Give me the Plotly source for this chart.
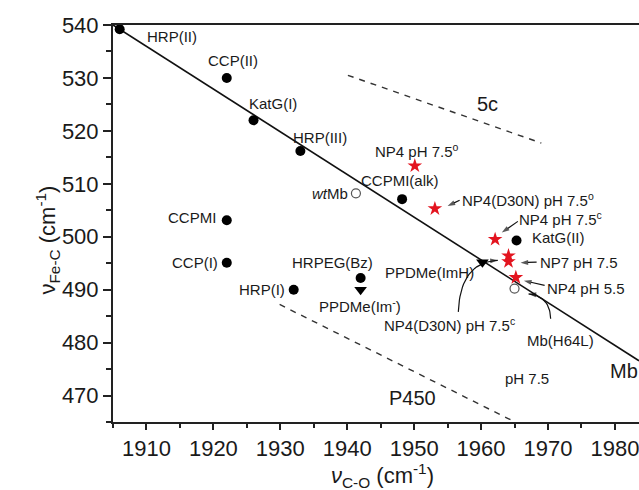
import plotly.graph_objects as go

# ---- data ----
fill_names = ["HRP(II)", "CCP(II)", "KatG(I)", "HRP(III)", "CCPMI", "CCP(I)", "HRP(I)",
              "HRPEG(Bz)", "CCPMI(alk)", "KatG(II)"]
fill_x = [1906, 1922, 1926, 1933, 1922, 1922, 1932, 1942, 1948.2, 1965.3]
fill_y = [539.2, 530, 522, 516.2, 503.1, 495.1, 490, 492.2, 507.1, 499.3]

open_names = ["wtMb", "Mb(H64L)"]
open_x = [1941.3, 1965]
open_y = [508.2, 490.2]

tri_names = ["PPDMe(Im-)", "PPDMe(ImH)"]
tri_x = [1942, 1960.2]
tri_y = [490, 495.2]

star_names = ["NP4 pH 7.5o", "NP4(D30N) pH 7.5o", "NP4 pH 7.5c", "NP7 pH 7.5",
              "NP4(D30N) pH 7.5c", "NP4 pH 5.5"]
star_x = [1950.1, 1953.1, 1962.1, 1964.1, 1964.1, 1965.2]
star_y = [513.4, 505.3, 499.5, 496.4, 495.3, 492.3]

# linear correlation line (Mb) and reference dashed lines
fit_slope = -0.807
fit_x0, fit_y0 = 1906, 539.2
fit_xs = [1905, 1983.6]
dash5c_x = [1940.1, 1969.0]
dash5c_y = [530.5, 517.7]
dashP450_x = [1929.9, 1964.6]
dashP450_y = [487.2, 465.3]

x_range = [1905, 1983.6]
y_range = [465, 540]
x_ticks = [1910, 1920, 1930, 1940, 1950, 1960, 1970, 1980]
y_ticks = [470, 480, 490, 500, 510, 520, 530, 540]

FONT = "Liberation Sans, Arial, sans-serif"
TXT = "#1a1a1a"

fig = go.Figure()

fit_ys = [fit_y0 + fit_slope * (x - fit_x0) for x in fit_xs]
fig.add_trace(go.Scatter(x=fit_xs, y=fit_ys, mode="lines",
                         line=dict(color="#111", width=1.6), hoverinfo="skip"))
fig.add_trace(go.Scatter(x=dash5c_x, y=dash5c_y, mode="lines",
                         line=dict(color="#333", width=1.4, dash="6px,6px"), hoverinfo="skip"))
fig.add_trace(go.Scatter(x=dashP450_x, y=dashP450_y, mode="lines",
                         line=dict(color="#333", width=1.4, dash="6px,6px"), hoverinfo="skip"))

# ---- arrows (drawn as lines with an oriented arrow marker at the tip) ----
# straight arrows: (tail, tip) in data coords
arrows = [
    ((1956.8, 506.9), (1955.0, 505.8)),
    ((1965.5, 502.9), (1963.1, 500.8)),
    ((1968.3, 495.2), (1965.9, 495.1)),
    ((1969.5, 490.8), (1966.4, 491.7)),
]
# curved arrows: quadratic bezier (start, control, end)
curves = [
    ((1956.6, 485.8), (1956.9, 495.2), (1962.5, 495.55)),
    ((1970.4, 484.5), (1970.3, 488.8), (1967.1, 489.2)),
]


def bezier(s, c, e, n=24):
    xs, ys = [], []
    for i in range(n + 1):
        t = i / n
        xs.append((1 - t) ** 2 * s[0] + 2 * (1 - t) * t * c[0] + t ** 2 * e[0])
        ys.append((1 - t) ** 2 * s[1] + 2 * (1 - t) * t * c[1] + t ** 2 * e[1])
    return xs, ys


arrow_paths = [([a[0], b[0]], [a[1], b[1]]) for a, b in arrows]
arrow_paths += [bezier(*cv) for cv in curves]
for xs, ys in arrow_paths:
    n = len(xs)
    fig.add_trace(go.Scatter(
        x=xs, y=ys, mode="lines+markers", hoverinfo="skip",
        line=dict(color="#111", width=1.2),
        marker=dict(symbol=["circle"] * (n - 1) + ["arrow"],
                    size=[0] * (n - 1) + [8], color="#111",
                    angleref="previous", line=dict(width=0))))

fig.add_trace(go.Scatter(x=fill_x, y=fill_y, mode="markers", text=fill_names,
                         marker=dict(symbol="circle", size=10, color="#000")))
fig.add_trace(go.Scatter(x=open_x, y=open_y, mode="markers", text=open_names,
                         marker=dict(symbol="circle", size=9, color="white",
                                     line=dict(color="#555", width=1.2))))
fig.add_trace(go.Scatter(x=tri_x, y=tri_y, mode="markers", text=tri_names,
                         marker=dict(symbol="triangle-down", size=11, color="#000")))
fig.add_trace(go.Scatter(x=star_x, y=star_y, mode="markers", text=star_names,
                         marker=dict(symbol="star", size=11, color="#e3141f",
                                     line=dict(width=0))))

# ---- text labels ----
labels = [
    ("HRP(II)", 1913.8, 537.9, "center", 15),
    ("CCP(II)", 1922.9, 533.2, "center", 15),
    ("KatG(I)", 1928.9, 525.2, "center", 15),
    ("HRP(III)", 1935.9, 518.8, "center", 15),
    ("CCPMI", 1920.7, 503.7, "right", 15),
    ("CCP(I)", 1921.0, 495.2, "right", 15),
    ("HRP(I)", 1931.0, 490.1, "right", 15),
    ("HRPEG(Bz)", 1937.8, 495.2, "center", 15),
    ("PPDMe(Im<sup>-</sup>)", 1941.9, 487.0, "center", 15),
    ("<i>wt</i>Mb", 1940.4, 508.2, "right", 15),
    ("CCPMI(alk)", 1947.9, 510.7, "center", 15),
    ("NP4 pH 7.5<sup>o</sup>", 1950.5, 516.2, "center", 15),
    ("5c", 1961.0, 525.1, "center", 20),
    ("NP4(D30N) pH 7.5<sup>o</sup>", 1956.9, 507.0, "left", 15),
    ("NP4 pH 7.5<sup>c</sup>", 1965.4, 503.4, "left", 15),
    ("KatG(II)", 1967.3, 499.9, "left", 15),
    ("NP7 pH 7.5", 1968.5, 495.2, "left", 15),
    ("NP4 pH 5.5", 1969.5, 490.2, "left", 15),
    ("PPDMe(ImH)", 1952.3, 493.3, "center", 15),
    ("NP4(D30N) pH 7.5<sup>c</sup>", 1955.3, 483.4, "center", 15),
    ("Mb(H64L)", 1971.9, 480.4, "center", 15),
    ("Mb", 1979.0, 474.7, "left", 20),
    ("pH 7.5", 1966.8, 473.2, "center", 15),
    ("P450", 1949.8, 469.6, "center", 20),
]
for txt, lx, ly, anc, fs in labels:
    fig.add_annotation(x=lx, y=ly, text=txt, showarrow=False, xanchor=anc,
                       yanchor="middle", font=dict(family=FONT, size=fs, color=TXT))

# axis titles
fig.add_annotation(xref="paper", yref="paper", x=-0.158, y=0.458, textangle=-90,
                   text="ν<sub>Fe-C</sub> (cm<sup>-1</sup>)", showarrow=False,
                   font=dict(family=FONT, size=22, color=TXT))
fig.add_annotation(xref="paper", yref="paper", x=0.513, y=-0.135,
                   text="<i>ν</i><sub>C-O</sub> (cm<sup>-1</sup>)", showarrow=False,
                   yanchor="middle", font=dict(family=FONT, size=22, color=TXT))

fig.update_layout(
    width=639, height=490, margin=dict(l=113, r=0, t=25, b=68),
    paper_bgcolor="white", plot_bgcolor="white", showlegend=False,
    font=dict(family=FONT, color=TXT),
    xaxis=dict(range=x_range, tickvals=x_ticks, showgrid=False, zeroline=False,
               showline=True, linecolor="#222", linewidth=2, mirror=True,
               ticks="outside", ticklen=6, tickwidth=1.5, tickcolor="#222",
               ticklabeloverflow="allow",
               minor=dict(ticks="outside", ticklen=4, tickwidth=1.5, dtick=5, tickcolor="#222"),
               tickfont=dict(family=FONT, size=22, color=TXT)),
    yaxis=dict(range=y_range, tickvals=y_ticks, showgrid=False, zeroline=False,
               showline=True, linecolor="#222", linewidth=2, mirror=False,
               ticks="outside", ticklen=8, tickwidth=1.5, tickcolor="#222",
               minor=dict(ticks="outside", ticklen=5, tickwidth=1.5, dtick=5, tickcolor="#222"),
               tickfont=dict(family=FONT, size=22, color=TXT)),
)

fig.write_html("out.html")
